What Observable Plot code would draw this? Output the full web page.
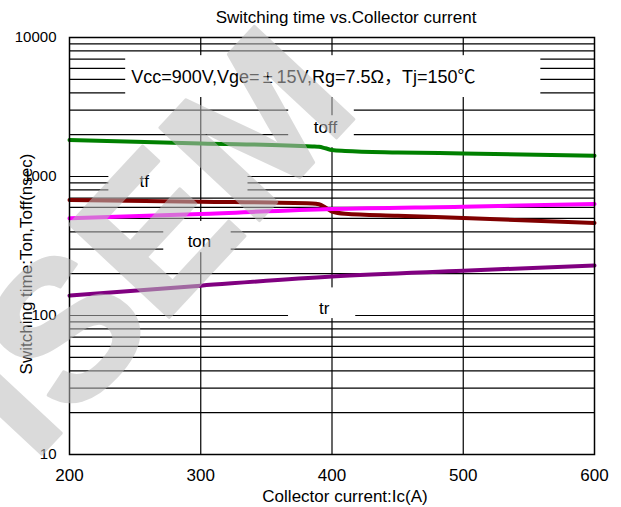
<!DOCTYPE html>
<html>
<head>
<meta charset="utf-8">
<script src="https://cdn.jsdelivr.net/npm/d3@7"></script>
<script src="https://cdn.jsdelivr.net/npm/@observablehq/plot@0.6"></script>
<style>
  body { margin: 0; background: #fff; }
</style>
</head>
<body>
<div id="chart"></div>
<script>
// ---- data ----
const currentsKnee = [200, 300, 385, 390, 395, 400, 410, 450, 500, 600];
const toffValues   = [1830, 1730, 1645, 1635, 1595, 1550, 1527, 1490, 1465, 1410];
const tfValues     = [677, 659, 640, 632, 598, 560, 540, 523, 503, 463];
const currents     = [200, 300, 400, 500, 600];
const tonValues    = [500, 538, 584, 607, 634];
const trValues     = [139, 164, 191, 210, 229];

const xTicks = [200, 300, 400, 500, 600];
const yTicks = [10, 100, 1000, 10000];
const xGrid  = [300, 400, 500];

const titleText  = "Switching time vs.Collector current";
const xLabelText = "Collector current:Ic(A)";
const yLabelText = "Switching time:Ton,Toff(nsec)";
const condBefore = "Vcc=900V,Vge=";
const condPm     = "±";
const condAfter  = "15V,Rg=7.5Ω，Tj=150℃";
const watermark  = "ISEM";

// series labels (text, current, time)
const labelNames   = ["toff", "tf", "ton", "tr"];
const labelCurrent = [395, 257, 299, 394];
const labelTime    = [2258, 913, 338, 112];

// white label boxes that hide the grid (in data units)
const boxesUnderV = [ // hide horizontal grid lines
  {x1: 243, x2: 559, y1: 3700, y2: 7400},
  {x1: 367, x2: 417, y1: 1809, y2: 3281},
  {x1: 230, x2: 336, y1: 752,  y2: 1101},
  {x1: 272, x2: 323, y1: 283,  y2: 475},
  {x1: 367, x2: 418, y1: 95,   y2: 158}
];
const boxesOverV = [ // hide vertical grid lines
  {x1: 243, x2: 559, y1: 3700, y2: 7400},
  {x1: 392, x2: 410, y1: 1612, y2: 2737},
  {x1: 272, x2: 323, y1: 283,  y2: 475},
  {x1: 367, x2: 418, y1: 95,   y2: 158}
];

// ---- build tables ----
const rows = (xs, ys, name) => xs.map((x, i) => ({I: x, t: ys[i], name}));
const toff = rows(currentsKnee, toffValues, "toff");
const tf   = rows(currentsKnee, tfValues, "tf");
const ton  = rows(currents, tonValues, "ton");
const tr   = rows(currents, trValues, "tr");
const labels = labelNames.map((n, i) => ({text: n, I: labelCurrent[i], t: labelTime[i]}));
const yGrid = d3.scaleLog().domain([10, 10000]).ticks();

const font = '"Liberation Sans", Arial, "Noto Sans CJK SC", sans-serif';

const chart = Plot.plot({
  width: 621,
  height: 507,
  marginLeft: 69,
  marginRight: 27,
  marginTop: 37,
  marginBottom: 53,
  style: {fontFamily: font, background: "#fff", color: "#000"},
  x: {domain: [200, 600]},
  y: {type: "log", domain: [10, 10000]},
  marks: [
    Plot.ruleY(yGrid, {stroke: "#000", strokeWidth: 1.2}),
    Plot.rect(boxesUnderV, {x1: "x1", x2: "x2", y1: "y1", y2: "y2", fill: "#fff"}),
    Plot.ruleX(xGrid, {stroke: "#000", strokeWidth: 1.2}),
    Plot.rect(boxesOverV, {x1: "x1", x2: "x2", y1: "y1", y2: "y2", fill: "#fff"}),
    Plot.line(toff, {x: "I", y: "t", stroke: "#008000", strokeWidth: 4, curve: "monotone-x"}),
    Plot.line(tf,   {x: "I", y: "t", stroke: "#800000", strokeWidth: 4, curve: "monotone-x"}),
    Plot.line(ton,  {x: "I", y: "t", stroke: "#ff00ff", strokeWidth: 4, curve: "monotone-x"}),
    Plot.line(tr,   {x: "I", y: "t", stroke: "#800080", strokeWidth: 4, curve: "monotone-x"}),
    Plot.text(labels, {x: "I", y: "t", text: "text", fontSize: 17, fill: "#000"}),
    Plot.text([condBefore + condPm + condAfter], {x: [247], y: [5193], text: d => d, textAnchor: "start", fontSize: 18, fill: "#000", className: "cond"}),
    Plot.frame({stroke: "#000", strokeWidth: 1.5}),
    Plot.axisX({ticks: xTicks, tickSize: 0, tickPadding: 14, fontSize: 17, label: null}),
    Plot.axisY({ticks: yTicks, tickFormat: d => String(d), tickSize: 0, tickPadding: 13, fontSize: 15, label: null}),
    Plot.text([titleText], {frameAnchor: "top", textAnchor: "middle", lineAnchor: "middle", dx: 14, dy: -19.7, fontSize: 17, fill: "#000"}),
    Plot.text([xLabelText], {frameAnchor: "bottom", textAnchor: "middle", lineAnchor: "middle", dx: 13, dy: 42, fontSize: 17, fill: "#000"}),
    Plot.text([yLabelText], {frameAnchor: "left", textAnchor: "middle", lineAnchor: "middle", rotate: -90, dx: -42.5, dy: 18, fontSize: 17, fill: "#000"}),
    Plot.text([watermark], {frameAnchor: "top-left", textAnchor: "middle", lineAnchor: "middle", rotate: -47, dx: 82, dy: 206, fontSize: 198, fontWeight: "bold", fill: "#bdbdbd", stroke: "#bdbdbd", strokeWidth: 3, opacity: 0.55})
  ]
});
document.getElementById("chart").append(chart);

// give the ± sign the wider spacing it has in the reference
d3.select(chart).selectAll("g.cond text").each(function () {
  const t = d3.select(this);
  t.text(null);
  t.append("tspan").text(condBefore);
  t.append("tspan").attr("dx", 3).text(condPm);
  t.append("tspan").attr("dx", 4).text(condAfter);
});
</script>
</body>
</html>
